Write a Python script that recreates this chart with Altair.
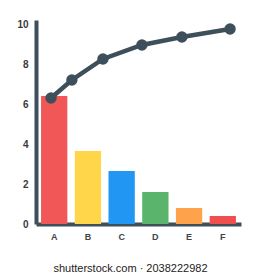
import altair as alt
import pandas as pd

categories = ["A", "B", "C", "D", "E", "F"]
bar_values = [6.4, 3.65, 2.65, 1.6, 0.8, 0.4]
bar_colors = ["#F15757", "#FFD54A", "#2196F3", "#5BB46C", "#FFA24C", "#EF4F4F"]
line_pos = [0.44, 1.05, 1.96, 3.10, 4.27, 5.68]
line_values = [6.3, 7.2, 8.25, 8.95, 9.35, 9.75]
y_ticks = [0, 2, 4, 6, 8, 10]

bars_df = pd.DataFrame({"cat": categories, "value": bar_values, "color": bar_colors})
line_df = pd.DataFrame({"pos": line_pos, "value": line_values})

axis_col = "#3D4F5B"
yscale = alt.Scale(domain=[0, 10.2], nice=False, zero=True)
yaxis = alt.Axis(values=y_ticks, ticks=False, grid=False, domainWidth=4,
                 domainColor=axis_col, labelFont="Liberation Sans", labelFontSize=10,
                 labelFontWeight="bold", labelColor="#3A3A3A", labelPadding=8)

bars = alt.Chart(bars_df).mark_bar().encode(
    x=alt.X("cat:N", sort=categories, title=None,
            scale=alt.Scale(paddingInner=0.22, paddingOuter=0.15),
            axis=alt.Axis(labelAngle=0, ticks=False, domainWidth=4, domainColor=axis_col,
                          labelFont="Liberation Sans", labelFontSize=9, labelFontWeight="bold",
                          labelColor="#444444", labelPadding=8)),
    y=alt.Y("value:Q", scale=yscale, title=None, axis=yaxis),
    color=alt.Color("color:N", scale=None),
)

line = alt.Chart(line_df).mark_line(color=axis_col, strokeWidth=4.5).encode(
    x=alt.X("pos:Q", scale=alt.Scale(domain=[0, 6], nice=False), axis=None),
    y=alt.Y("value:Q", scale=yscale, title=None, axis=yaxis),
)
points = alt.Chart(line_df).mark_circle(color=axis_col, size=130, opacity=1).encode(
    x=alt.X("pos:Q", scale=alt.Scale(domain=[0, 6], nice=False), axis=None),
    y=alt.Y("value:Q", scale=yscale, title=None, axis=yaxis),
)

chart = alt.layer(bars, line, points).resolve_scale(x="independent").properties(
    width=205, height=204,
    background="white",
    padding={"left": 36, "top": 20, "right": 19, "bottom": 56},
    autosize=alt.AutoSizeParams(type="none"),
    title=alt.TitleParams("shutterstock.com · 2038222982", orient="bottom", anchor="middle",
                          font="Liberation Sans", fontSize=11, fontWeight="normal",
                          color="#222222", offset=22, dx=-8),
).configure_view(stroke=None)

chart.save("out.html", embed_options={"renderer": "svg", "actions": False})
